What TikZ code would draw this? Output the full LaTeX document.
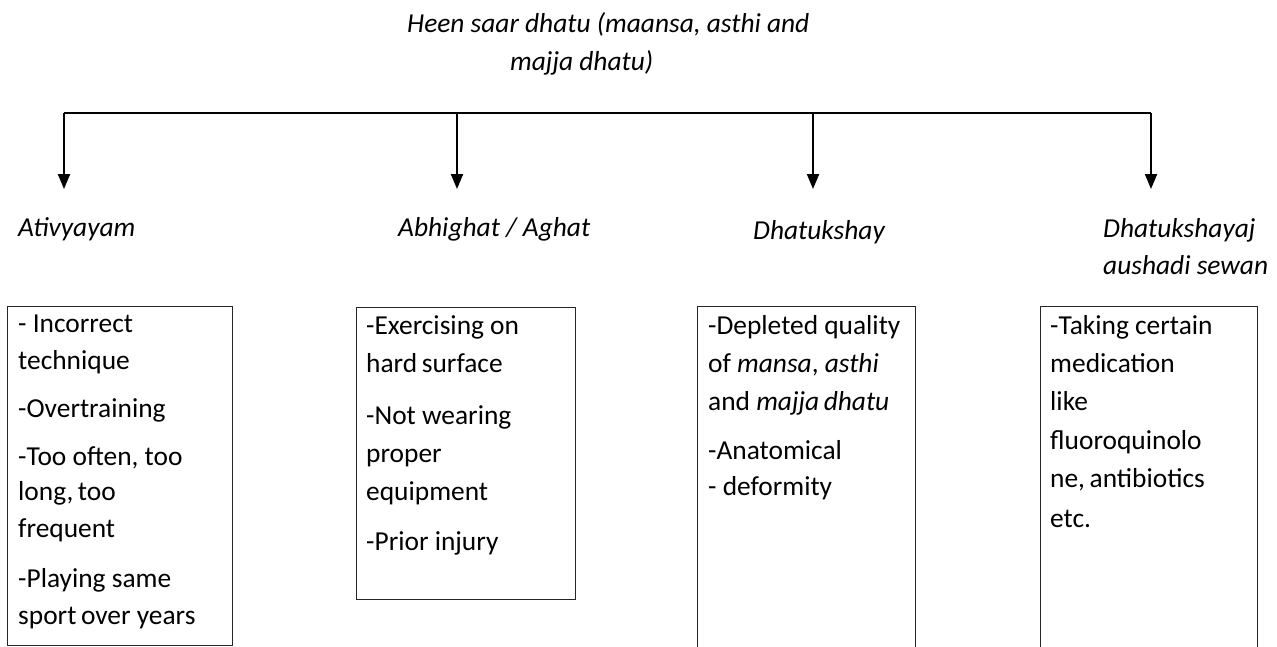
\documentclass[tikz,border=0pt]{standalone}
\usepackage{fontspec}
\setmainfont{Carlito}
\usetikzlibrary{arrows.meta}
\begin{document}
\begin{tikzpicture}[x=1pt,y=-1pt,
  txt/.style={anchor=mid west,inner sep=0pt,yshift=-5pt,font=\fontsize{27.4}{32}\selectfont},
  lbl/.style={anchor=mid west,inner sep=0pt,yshift=-5pt,font=\fontsize{27.4}{32}\selectfont\itshape},
  boxc/.style={draw=black!85,line width=1.3pt,anchor=north west,inner sep=0pt},
  bar/.style={line width=2pt},
  arr/.style={line width=2pt,-{Triangle[length=15pt,width=12pt]}}]
\useasboundingbox (0,0) rectangle (1277,646);
\clip (0,0) rectangle (1277,646);
\fill[white] (0,0) rectangle (1277,646);

% title
\node[lbl] (title1) at (407,25) {Heen saar dhatu (maansa, asthi and};
\node[lbl] (title2) at (510,63) {majja dhatu)};

% connectors
\coordinate (t1) at (64,113);
\coordinate (t2) at (457,113);
\coordinate (t3) at (813,113);
\coordinate (t4) at (1151,113);
\coordinate (e1) at (64,189);
\coordinate (e2) at (457,189);
\coordinate (e3) at (813,189);
\coordinate (e4) at (1151,189);
\draw[bar] (t1) -- (t4);
\draw[arr] (t1) -- (e1);
\draw[arr] (t2) -- (e2);
\draw[arr] (t3) -- (e3);
\draw[arr] (t4) -- (e4);

% labels
\node[lbl] (h1) at (18,229) {Ativyayam};
\node[lbl] (h2) at (398,229) {Abhighat / Aghat};
\node[lbl] (h3) at (753,232) {Dhatukshay};
\node[lbl] (h4a) at (1103,230) {Dhatukshayaj};
\node[lbl] (h4b) at (1103,267) {aushadi sewan};

% boxes
\node[boxc,minimum width=225pt,minimum height=339pt] (b1) at (7,306) {};
\node[boxc,minimum width=219pt,minimum height=292pt] (b2) at (356,307) {};
\node[boxc,minimum width=218pt,minimum height=360pt] (b3) at (697,306) {};
\node[boxc,minimum width=217pt,minimum height=360pt] (b4) at (1040,306) {};

% box 1 text
\node[txt] (a1) at (18,325) {- Incorrect};
\node[txt] (a2) at (18,362) {technique};
\node[txt] (a3) at (18,410) {-Overtraining};
\node[txt] (a4) at (18,458) {-Too often, too};
\node[txt] (a5) at (18,493) {long,\,too};
\node[txt] (a6) at (18,530) {frequent};
\node[txt] (a7) at (18,580) {-Playing same};
\node[txt] (a8) at (18,617) {sport\,over years};

% box 2 text
\node[txt] (c1) at (366,327) {-Exercising on};
\node[txt] (c2) at (366,365) {hard\,surface};
\node[txt] (c3) at (366,417) {-Not wearing};
\node[txt] (c4) at (366,455) {proper};
\node[txt] (c5) at (366,493) {equipment};
\node[txt] (c6) at (366,543) {-Prior injury};

% box 3 text
\node[txt] (d1) at (708,327) {-Depleted quality};
\node[txt] (d2) at (708,365) {of \textit{mansa}, \textit{asthi}};
\node[txt] (d3) at (708,403) {and \textit{majja\,dhatu}};
\node[txt] (d4) at (708,452) {-Anatomical};
\node[txt] (d5) at (708,488) {- deformity};

% box 4 text
\node[txt] (f1) at (1050,327) {-Taking certain};
\node[txt] (f2) at (1050,365) {medication};
\node[txt] (f3) at (1050,403) {like};
\node[txt] (f4) at (1050,442) {fluoroquinolo};
\node[txt] (f5) at (1050,480) {ne,\,antibiotics};
\node[txt] (f6) at (1050,520) {etc.};
\end{tikzpicture}
\end{document}
